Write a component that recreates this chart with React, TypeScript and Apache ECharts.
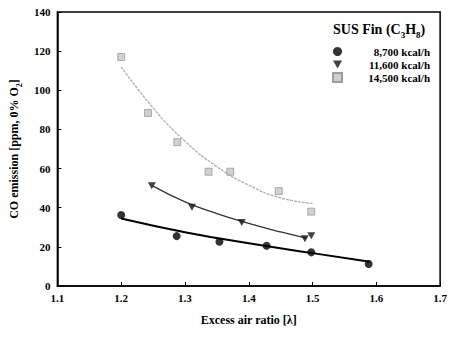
import React, { useEffect, useRef } from "react";
import * as echarts from "echarts";

const seriesNames = ["8,700 kcal/h", "11,600 kcal/h", "14,500 kcal/h"];

const pts8700: [number, number][] = [
  [1.2, 36.3], [1.287, 25.5], [1.354, 22.6], [1.428, 20.6], [1.498, 17.2], [1.588, 11.2],
];
const pts11600: [number, number][] = [
  [1.248, 51.2], [1.311, 40.2], [1.389, 32.5], [1.488, 24.2], [1.498, 25.7],
];
const pts14500: [number, number][] = [
  [1.2, 117.0], [1.242, 88.4], [1.288, 73.5], [1.337, 58.4], [1.371, 58.4], [1.447, 48.5], [1.498, 38.0],
];

const fit8700: [number, number][] = [
  [1.2, 34.5], [1.3, 27.5], [1.4, 21.8], [1.5, 16.8], [1.59, 12.4],
];
const fit11600: [number, number][] = [
  [1.25, 51.0], [1.3, 43.0], [1.35, 37.0], [1.4, 32.0], [1.45, 27.6], [1.49, 24.5],
];
const fit14500: [number, number][] = [
  [1.2, 112], [1.25, 91], [1.3, 74], [1.35, 61], [1.4, 51.5], [1.45, 45], [1.5, 42.2],
];

const font = "'Liberation Serif', 'DejaVu Serif', serif";
const triPath = "path://M0,0 L10,0 L5,9 Z";

export default function App() {
  const ref = useRef<HTMLDivElement>(null);
  useEffect(() => {
    if (!ref.current) return;
    const chart = echarts.init(ref.current, undefined, { renderer: "svg" });
    const axisCommon = {
      axisLine: { show: true, lineStyle: { color: "#000", width: 1.5 } },
      axisTick: { show: true, inside: true, length: 4, lineStyle: { color: "#000" } },
      splitLine: { show: false },
      axisLabel: { color: "#000", fontFamily: font, fontWeight: "bold", fontSize: 11 },
    };
    chart.setOption({
      animation: false,
      backgroundColor: "#fff",
      grid: { left: 56, right: 5, top: 12, bottom: 51, show: true, borderColor: "#000", borderWidth: 1.5 },
      xAxis: {
        type: "value",
        min: 1.1,
        max: 1.7,
        interval: 0.1,
        name: "Excess air ratio [λ]",
        nameLocation: "middle",
        nameGap: 28,
        nameTextStyle: { color: "#000", fontFamily: font, fontWeight: "bold", fontSize: 12 },
        ...axisCommon,
        axisLabel: { ...axisCommon.axisLabel, margin: 6, formatter: (v: number) => v.toFixed(1) },
      },
      yAxis: {
        type: "value",
        min: 0,
        max: 140,
        interval: 20,
        name: "{a|CO emission [ppm, 0% O}{s|2}{a|]}",
        nameLocation: "middle",
        nameGap: 33,
        nameTextStyle: {
          rich: {
            a: { color: "#000", fontFamily: font, fontWeight: "bold", fontSize: 12, lineHeight: 18 },
            s: { color: "#000", fontFamily: font, fontWeight: "bold", fontSize: 8, lineHeight: 8, verticalAlign: "bottom" },
          },
        },
        ...axisCommon,
        axisLabel: { ...axisCommon.axisLabel, margin: 7 },
      },
      legend: {
        orient: "vertical",
        left: 332,
        top: 46,
        padding: 0,
        itemGap: 2,
        itemWidth: 9,
        itemHeight: 9,
        data: [
          { name: seriesNames[0], icon: "circle" },
          { name: seriesNames[1], icon: triPath },
          { name: seriesNames[2], icon: "rect" },
        ],
        formatter: "{r|{name}}",
        textStyle: {
          rich: {
            r: { color: "#000", fontFamily: font, fontWeight: "bold", fontSize: 11, width: 83, align: "right" },
          },
        },
      },
      graphic: [
        {
          type: "text",
          left: 333,
          top: 22,
          style: {
            text: "{a|SUS Fin (C}{s|3}{a|H}{s|8}{a|)}",
            rich: {
              a: { fill: "#000", fontFamily: font, fontWeight: "bold", fontSize: 14, lineHeight: 20 },
              s: { fill: "#000", fontFamily: font, fontWeight: "bold", fontSize: 9, lineHeight: 9, verticalAlign: "bottom" },
            },
          },
        },
      ],
      series: [
        {
          name: seriesNames[0],
          type: "scatter",
          data: pts8700,
          symbol: "circle",
          symbolSize: 8,
          itemStyle: { color: "#000" },
          z: 5,
        },
        {
          name: seriesNames[1],
          type: "scatter",
          data: pts11600,
          symbol: triPath,
          symbolSize: [8, 7],
          itemStyle: { color: "#111" },
          z: 5,
        },
        {
          name: seriesNames[2],
          type: "scatter",
          data: pts14500,
          symbol: "rect",
          symbolSize: 7,
          itemStyle: { color: "#c4c4c4", borderColor: "#8a8a8a", borderWidth: 0.8 },
          z: 5,
        },
        {
          type: "line",
          data: fit8700,
          smooth: true,
          symbol: "none",
          lineStyle: { color: "#000", width: 2 },
        },
        {
          type: "line",
          data: fit11600,
          smooth: true,
          symbol: "none",
          lineStyle: { color: "#333", width: 1.3 },
        },
        {
          type: "line",
          data: fit14500,
          smooth: true,
          symbol: "none",
          lineStyle: { color: "#b0b0b0", width: 1.3, type: [3, 1] },
        },
      ],
    });
    return () => chart.dispose();
  }, []);
  return <div ref={ref} style={{ width: 450, height: 337, position: "absolute", left: 0, top: 0 }} />;
}
